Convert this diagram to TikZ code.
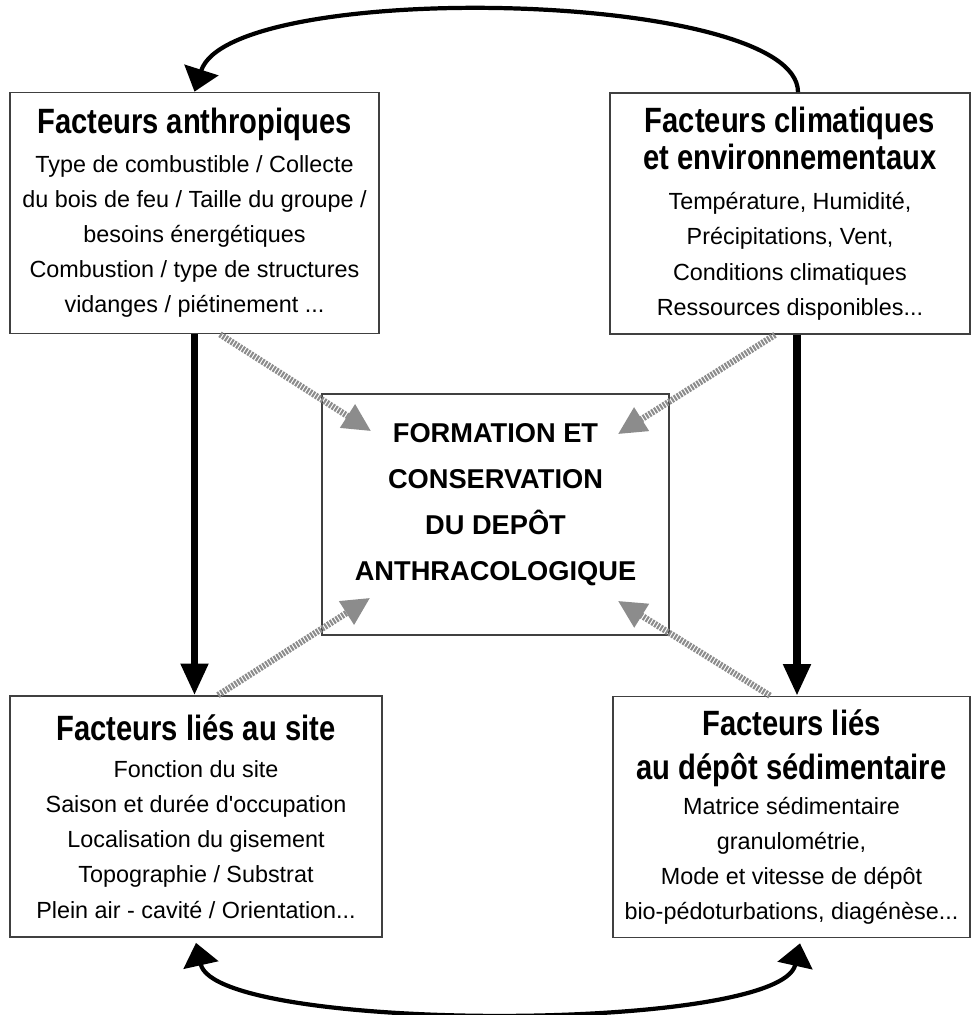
\documentclass[tikz,border=0pt]{standalone}
\usepackage{fontspec}
\setmainfont{Liberation Sans}
\newfontfamily\etroite[FakeStretch=0.83]{Liberation Sans}
\usetikzlibrary{arrows.meta}
\newcommand{\titre}[1]{{\etroite\bfseries\fontsize{20pt}{20pt}\selectfont #1}}

\begin{document}
\begin{tikzpicture}[x=0.02cm, y=-0.02cm,
        boite/.style={draw=black!75, line width=1pt, inner sep=2pt, align=center,
            minimum height=4.82cm, font=\fontsize{13.3pt}{20pt}\selectfont},
        fleche/.style={line width=4pt, >={Triangle[length=18pt, width=15pt]}},
        boucle/.style={line width=2.4pt, >={Triangle[length=13pt, width=20pt]}},
        grisfleche/.style={draw=black!45, line width=3.6pt, dash pattern=on 1.2pt off 0.7pt,
            -{Triangle[length=16pt, width=15pt]}, black!45}]
        \useasboundingbox (0,0) rectangle (972,1015);

        %%%%%%%%%% Noeuds %%%%%%%%%%
        \node[boite, minimum width=7.38cm] (A) at (194.5,213) {\titre{Facteurs anthropiques}\\[2pt]
            Type de combustible / Collecte\\ du bois de feu / Taille du groupe /\\ besoins énergétiques\\
            Combustion / type de structures\\ vidanges / piétinement ...};
        \node[boite, minimum width=7.2cm] (C) at (790,213.5) {\titre{Facteurs climatiques}\\[1pt]
            \titre{et environnementaux}\\[3pt]
            Température, Humidité,\\ Précipitations, Vent,\\ Conditions climatiques\\ Ressources disponibles...};
        \node[boite, minimum width=6.94cm, inner sep=0pt] (F) at (495.5,514.5) {};
        \node[align=center, font=\bfseries\fontsize{15.5pt}{26.2pt}\selectfont] (Ft) at ([yshift=0.2cm]F)
            {FORMATION ET\\ CONSERVATION\\ DU DEPÔT\\ ANTHRACOLOGIQUE};
        \node[boite, minimum width=7.44cm] (S) at (196,816.5) {\titre{Facteurs liés au site}\\[1pt]
            Fonction du site\\ Saison et durée d\textquotesingle occupation\\ Localisation du gisement\\
            Topographie / Substrat\\ Plein air - cavité / Orientation...};
        \node[boite, minimum width=7.14cm] (D) at (791.5,817) {\titre{Facteurs liés}\\[5pt]
            \titre{au dépôt sédimentaire}\\
            Matrice sédimentaire\\ granulométrie,\\ Mode et vitesse de dépôt\\ bio-pédoturbations, diagénèse...};

        %%%%%%%%%% Fleches %%%%%%%%%%
        \coordinate (c1) at ([xshift=0.14cm]C.south);
        \draw[fleche, ->] (A.south) -- (A.south |- S.north);
        \draw[fleche, ->] (c1) -- (c1 |- D.north);
        \draw[boucle, ->] ([xshift=0.16cm]C.north) .. controls +(0,-103) and +(36,-113) .. (A.north);
        \draw[boucle, <->] ([yshift=-0.1cm]S.south) .. controls +(20,90) and +(-20,90) .. ([xshift=0.17cm, yshift=-0.1cm]D.south);
        \draw[grisfleche] ([xshift=0.51cm]A.south) -- ([xshift=1cm, yshift=-0.76cm]F.north west);
        \draw[grisfleche] ([xshift=-0.3cm]C.south) -- ([xshift=-1.04cm, yshift=-0.82cm]F.north east);
        \draw[grisfleche] ([xshift=0.44cm]S.north) -- ([xshift=0.98cm, yshift=0.76cm]F.south west);
        \draw[grisfleche] ([xshift=-0.43cm]D.north) -- ([xshift=-1.04cm, yshift=0.7cm]F.south east);
    \end{tikzpicture}
\end{document}
